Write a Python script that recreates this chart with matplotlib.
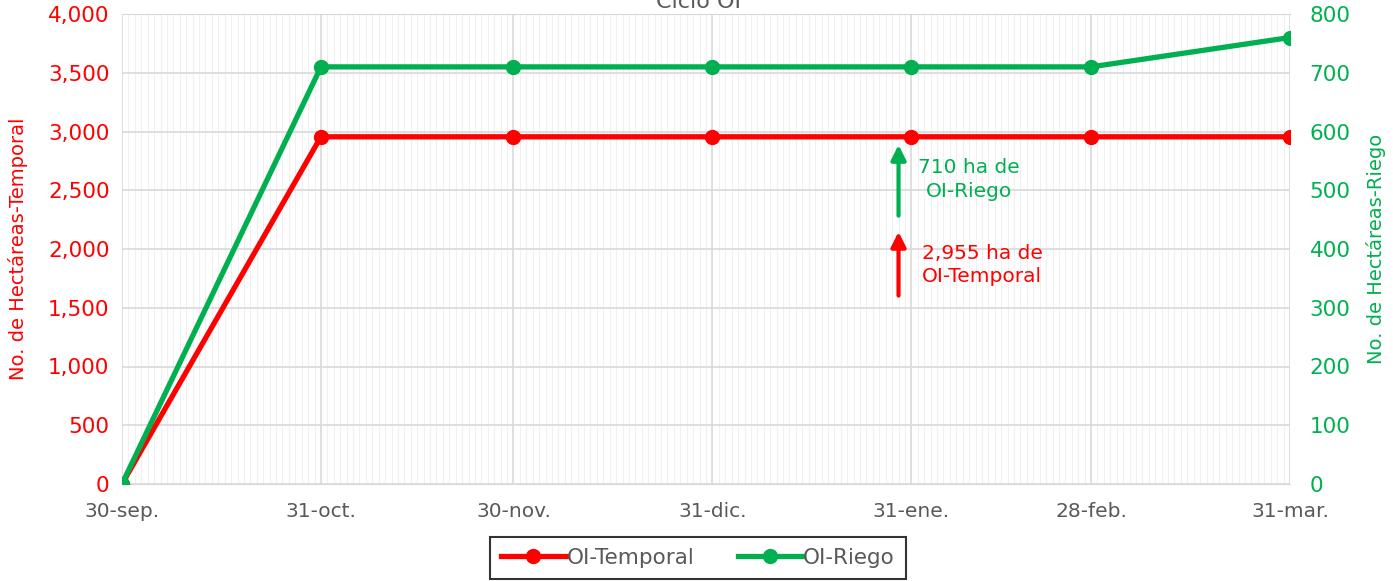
import matplotlib.pyplot as plt
import matplotlib.dates as mdates
import matplotlib.ticker as mticker
import numpy as np

plt.rcParams['font.family'] = ['DejaVu Sans']

fechas = np.array(['2022-09-30', '2022-10-31', '2022-11-30', '2022-12-31',
                   '2023-01-31', '2023-02-28', '2023-03-31'], dtype='datetime64[D]')
etiquetas = ['30-sep.', '31-oct.', '30-nov.', '31-dic.', '31-ene.', '28-feb.', '31-mar.']
temporal = [0, 2955, 2955, 2955, 2955, 2955, 2955]
riego = [0, 710, 710, 710, 710, 710, 760]

ROJO = '#FF0000'
VERDE = '#00B050'
GRIS = '#595959'

fig = plt.figure(figsize=(13.93, 5.81), dpi=100)
ax = fig.add_axes([122 / 1393, 1 - 484 / 581, (1290 - 122) / 1393, (484 - 14) / 581])
ax2 = ax.twinx()

x = fechas.astype('datetime64[ms]').astype(object)

l1, = ax.plot(x, temporal, color=ROJO, lw=3.8, marker='o', ms=10, label='OI-Temporal', zorder=3)
l2, = ax2.plot(x, riego, color=VERDE, lw=3.8, marker='o', ms=10, label='OI-Riego', zorder=4)

ax.set_xlim(x[0], x[-1])
ax.set_ylim(0, 4000)
ax2.set_ylim(0, 800)
ax.set_xticks(x)
ax.set_xticklabels(etiquetas)
ax.xaxis.set_minor_locator(mdates.DayLocator())
ax.yaxis.set_major_locator(mticker.MultipleLocator(500))
ax.yaxis.set_major_formatter(mticker.FuncFormatter(lambda v, p: f'{v:,.0f}'))
ax2.yaxis.set_major_locator(mticker.MultipleLocator(100))

ax.grid(True, which='minor', axis='x', color='#F0F0F0', lw=0.8)
ax.grid(True, which='major', axis='both', color='#D9D9D9', lw=1.2)
ax.set_axisbelow(True)
for a in (ax, ax2):
    for s in a.spines.values():
        s.set_visible(False)
ax.spines['top'].set_visible(True)
ax.spines['top'].set_color('#D9D9D9')
ax.spines['bottom'].set_visible(True)
ax.spines['bottom'].set_color('#D9D9D9')

ax.tick_params(axis='x', which='both', length=0, labelsize=14.5, labelcolor=GRIS, pad=13)
ax.tick_params(axis='y', length=0, labelsize=15.5, labelcolor=ROJO, pad=9)
ax2.tick_params(axis='y', length=0, labelsize=15.5, labelcolor=VERDE, pad=14)

ax.set_ylabel('No. de Hectáreas-Temporal', color=ROJO, fontsize=14, labelpad=14)
ax2.set_ylabel('No. de Hectáreas-Riego', color=VERDE, fontsize=14, labelpad=11)

# flechas y notas
xa = np.datetime64('2023-01-29').astype('datetime64[ms]').astype(object)
ax.annotate('', xy=(xa, 2910), xytext=(xa, 2260),
            arrowprops=dict(arrowstyle='-|>', color=VERDE, lw=3, mutation_scale=22))
ax.annotate('', xy=(xa, 2170), xytext=(xa, 1580),
            arrowprops=dict(arrowstyle='-|>', color=ROJO, lw=3, mutation_scale=22))
ax.text(np.datetime64('2023-02-09').astype('datetime64[ms]').astype(object), 2590,
        '710 ha de\nOI-Riego', color=VERDE, fontsize=14.5, ha='center', va='center',
        linespacing=1.3)
ax.text(np.datetime64('2023-02-11').astype('datetime64[ms]').astype(object), 1865,
        '2,955 ha de\nOI-Temporal', color=ROJO, fontsize=14.5, ha='center', va='center',
        linespacing=1.3)

fig.text(0.5015, 1 - 2 / 581, 'Ciclo OI', ha='center', va='center', fontsize=16, color=GRIS)

leg = fig.legend(handles=[l1, l2], loc='center', bbox_to_anchor=(698 / 1393, 1 - 558 / 581),
                 ncol=2, fontsize=15.5, frameon=True, fancybox=False, handlelength=3,
                 columnspacing=2.0, borderpad=0.5, handletextpad=0.05, borderaxespad=0)
leg.get_frame().set_edgecolor('black')
leg.get_frame().set_linewidth(1.5)
for t in leg.get_texts():
    t.set_color(GRIS)

fig.savefig('out.png', dpi=100)
